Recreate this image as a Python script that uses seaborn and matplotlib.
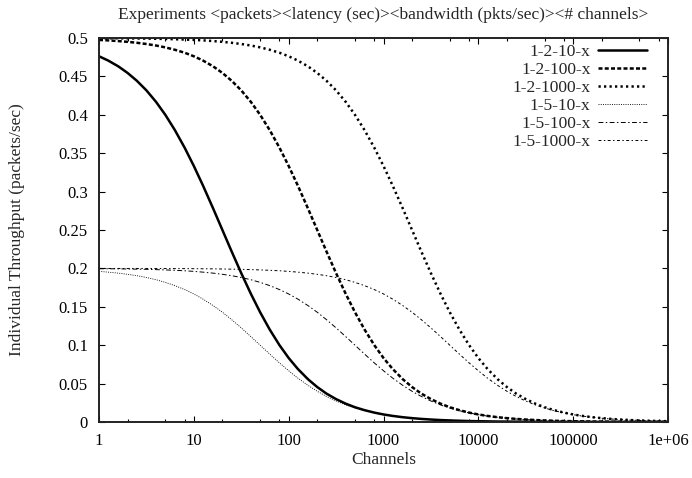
import matplotlib
matplotlib.use("Agg")
import matplotlib.pyplot as plt
import seaborn as sns
import numpy as np
import pandas as pd
from matplotlib.ticker import FixedLocator, FixedFormatter, NullFormatter

# ---------------- data ----------------
channels = [1, 1.25, 1.6, 2, 2.5, 3.15, 4, 5, 6.3, 8,
            10, 12.5, 16, 20, 25, 31.5, 40, 50, 63, 80,
            100, 125, 160, 200, 250, 315, 400, 500, 630, 800,
            1000, 1250, 1600, 2000, 2500, 3150, 4000, 5000, 6300, 8000,
            10000, 12500, 16000, 20000, 25000, 31500, 40000, 50000, 63000, 80000,
            100000, 125000, 160000, 200000, 250000, 315000, 400000, 500000, 630000, 800000,
            1000000]

s_1_2_10 = [0.4762, 0.4706, 0.4630, 0.4545, 0.4444, 0.4320, 0.4167, 0.4000, 0.3802, 0.3571,
            0.3333, 0.3077, 0.2778, 0.2500, 0.2222, 0.1942, 0.1667, 0.1429, 0.1205, 0.1000,
            0.0833, 0.0690, 0.0556, 0.0455, 0.0370, 0.0299, 0.0238, 0.0192, 0.0154, 0.0122,
            0.0098, 0.0079, 0.0062, 0.0050, 0.0040, 0.0032, 0.0025, 0.0020, 0.0016, 0.0012,
            0.0010, 0.0008, 0.0006, 0.0005, 0.0004, 0.0003, 0.0002, 0.0002, 0.0002, 0.0001,
            0.0001, 0.0001, 0.0001, 0.0000, 0.0000, 0.0000, 0.0000, 0.0000, 0.0000, 0.0000,
            0.0000]

s_1_2_100 = [0.4975, 0.4969, 0.4960, 0.4950, 0.4938, 0.4922, 0.4902, 0.4878, 0.4847, 0.4808,
             0.4762, 0.4706, 0.4630, 0.4545, 0.4444, 0.4320, 0.4167, 0.4000, 0.3802, 0.3571,
             0.3333, 0.3077, 0.2778, 0.2500, 0.2222, 0.1942, 0.1667, 0.1429, 0.1205, 0.1000,
             0.0833, 0.0690, 0.0556, 0.0455, 0.0370, 0.0299, 0.0238, 0.0192, 0.0154, 0.0122,
             0.0098, 0.0079, 0.0062, 0.0050, 0.0040, 0.0032, 0.0025, 0.0020, 0.0016, 0.0012,
             0.0010, 0.0008, 0.0006, 0.0005, 0.0004, 0.0003, 0.0002, 0.0002, 0.0002, 0.0001,
             0.0001]

s_1_2_1000 = [0.4998, 0.4997, 0.4996, 0.4995, 0.4994, 0.4992, 0.4990, 0.4988, 0.4984, 0.4980,
              0.4975, 0.4969, 0.4960, 0.4950, 0.4938, 0.4922, 0.4902, 0.4878, 0.4847, 0.4808,
              0.4762, 0.4706, 0.4630, 0.4545, 0.4444, 0.4320, 0.4167, 0.4000, 0.3802, 0.3571,
              0.3333, 0.3077, 0.2778, 0.2500, 0.2222, 0.1942, 0.1667, 0.1429, 0.1205, 0.1000,
              0.0833, 0.0690, 0.0556, 0.0455, 0.0370, 0.0299, 0.0238, 0.0192, 0.0154, 0.0122,
              0.0098, 0.0079, 0.0062, 0.0050, 0.0040, 0.0032, 0.0025, 0.0020, 0.0016, 0.0012,
              0.0010]

s_1_5_10 = [0.1961, 0.1951, 0.1938, 0.1923, 0.1905, 0.1882, 0.1852, 0.1818, 0.1776, 0.1724,
            0.1667, 0.1600, 0.1515, 0.1429, 0.1333, 0.1227, 0.1111, 0.1000, 0.0885, 0.0769,
            0.0667, 0.0571, 0.0476, 0.0400, 0.0333, 0.0274, 0.0222, 0.0182, 0.0147, 0.0118,
            0.0095, 0.0077, 0.0061, 0.0049, 0.0039, 0.0031, 0.0025, 0.0020, 0.0016, 0.0012,
            0.0010, 0.0008, 0.0006, 0.0005, 0.0004, 0.0003, 0.0002, 0.0002, 0.0002, 0.0001,
            0.0001, 0.0001, 0.0001, 0.0000, 0.0000, 0.0000, 0.0000, 0.0000, 0.0000, 0.0000,
            0.0000]

s_1_5_100 = [0.1996, 0.1995, 0.1994, 0.1992, 0.1990, 0.1988, 0.1984, 0.1980, 0.1975, 0.1969,
             0.1961, 0.1951, 0.1938, 0.1923, 0.1905, 0.1882, 0.1852, 0.1818, 0.1776, 0.1724,
             0.1667, 0.1600, 0.1515, 0.1429, 0.1333, 0.1227, 0.1111, 0.1000, 0.0885, 0.0769,
             0.0667, 0.0571, 0.0476, 0.0400, 0.0333, 0.0274, 0.0222, 0.0182, 0.0147, 0.0118,
             0.0095, 0.0077, 0.0061, 0.0049, 0.0039, 0.0031, 0.0025, 0.0020, 0.0016, 0.0012,
             0.0010, 0.0008, 0.0006, 0.0005, 0.0004, 0.0003, 0.0002, 0.0002, 0.0002, 0.0001,
             0.0001]

s_1_5_1000 = [0.2000, 0.1999, 0.1999, 0.1999, 0.1999, 0.1999, 0.1998, 0.1998, 0.1997, 0.1997,
              0.1996, 0.1995, 0.1994, 0.1992, 0.1990, 0.1988, 0.1984, 0.1980, 0.1975, 0.1969,
              0.1961, 0.1951, 0.1938, 0.1923, 0.1905, 0.1882, 0.1852, 0.1818, 0.1776, 0.1724,
              0.1667, 0.1600, 0.1515, 0.1429, 0.1333, 0.1227, 0.1111, 0.1000, 0.0885, 0.0769,
              0.0667, 0.0571, 0.0476, 0.0400, 0.0333, 0.0274, 0.0222, 0.0182, 0.0147, 0.0118,
              0.0095, 0.0077, 0.0061, 0.0049, 0.0039, 0.0031, 0.0025, 0.0020, 0.0016, 0.0012,
              0.0010]

series_names = ["1-2-10-x", "1-2-100-x", "1-2-1000-x", "1-5-10-x", "1-5-100-x", "1-5-1000-x"]
series_values = [s_1_2_10, s_1_2_100, s_1_2_1000, s_1_5_10, s_1_5_100, s_1_5_1000]

x_ticks = [1, 10, 100, 1000, 10000, 100000, 1000000]
x_tick_labels = ["1", "10", "100", "1000", "10000", "100000", "1e+06"]
y_ticks = [0, 0.05, 0.1, 0.15, 0.2, 0.25, 0.3, 0.35, 0.4, 0.45, 0.5]
y_tick_labels = ["0", "0.05", "0.1", "0.15", "0.2", "0.25", "0.3", "0.35", "0.4", "0.45", "0.5"]

title = "Experiments <packets><latency (sec)><bandwidth (pkts/sec)><# channels>"
x_label = "Channels"
y_label = "Individual Throughput (packets/sec)"

# ---------------- styling ----------------
sns.set_style("ticks")
plt.rcParams["font.family"] = ["Liberation Serif", "DejaVu Serif"]
plt.rcParams["axes.unicode_minus"] = False

styles = [
    dict(lw=1.8, ls="-"),
    dict(lw=1.8, ls=(0, (1.6, 0.9))),
    dict(lw=1.8, ls=(0, (0.9, 1.3))),
    dict(lw=0.6, ls=(0, (1.2, 1.5))),
    dict(lw=0.7, ls=(0, (5, 2.5, 1.5, 2.5))),
    dict(lw=0.7, ls=(0, (3, 2.5, 1.5, 2.5))),
]

fig = plt.figure(figsize=(6.92, 4.78), dpi=100)
ax = fig.add_axes([0.1431, 0.1172, 0.8222, 0.8033])

for name, vals, st in zip(series_names, series_values, styles):
    df = pd.DataFrame({"Channels": channels, "value": vals})
    sns.lineplot(data=df, x="Channels", y="value", ax=ax, color="black",
                 linewidth=st["lw"], linestyle=st["ls"], label=name,
                 estimator=None, sort=True)

ax.set_xscale("log")
ax.set_xlim(1, 1e6)
ax.set_ylim(0, 0.5)

ax.xaxis.set_major_locator(FixedLocator(x_ticks))
ax.xaxis.set_major_formatter(FixedFormatter(x_tick_labels))
minor = []
for d in x_ticks[:-1]:
    minor += [2 * d, 5 * d, 8 * d]
ax.xaxis.set_minor_locator(FixedLocator(minor))
ax.xaxis.set_minor_formatter(NullFormatter())
ax.yaxis.set_major_locator(FixedLocator(y_ticks))
ax.yaxis.set_major_formatter(FixedFormatter(y_tick_labels))

ax.tick_params(which="major", direction="in", length=4.5, width=0.8, color="black",
               top=True, right=True, labelsize=12, pad=8, labelcolor="black")
ax.tick_params(which="minor", direction="in", length=2.5, width=0.8, color="black",
               top=True, right=False, left=False)
for sp in ax.spines.values():
    sp.set_visible(True)
    sp.set_linewidth(1.4)
    sp.set_color("#222222")

ax.set_title(title, fontsize=12.5, pad=14)
ax.set_xlabel(x_label, fontsize=12.5, labelpad=2)
ax.set_ylabel(y_label, fontsize=12.5, labelpad=24)

leg = ax.legend(loc="upper right", frameon=False, markerfirst=False, fontsize=12.5,
                handlelength=2.8, handletextpad=0.45, labelspacing=0.1,
                borderpad=0, borderaxespad=0, bbox_to_anchor=(0.963, 0.984))

fig.savefig("out.png", dpi=100)
